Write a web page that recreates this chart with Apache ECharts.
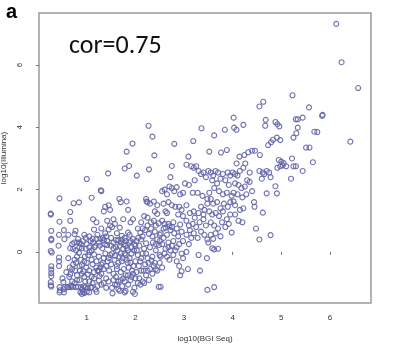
<!DOCTYPE html>
<html>
<head>
<meta charset="utf-8">
<script src="https://cdn.jsdelivr.net/npm/echarts@6/dist/echarts.min.js"></script>
<style>
html,body{margin:0;padding:0;background:#fff;}
#c{width:400px;height:349px;}
</style>
</head>
<body>
<div id="c"></div>
<script>
var panelLabel = 'a';
var corText = 'cor=0.75';
var xTitle = 'log10(BGI Seq)';
var yTitle = 'log10(Illumina)';
var xTicks = [1, 2, 3, 4, 5, 6];
var yTicks = [0, 2, 4, 6];
var xRange = [0.018, 6.845];
var yRange = [-1.64, 7.67];

var pts1 = [[0.26,1.23],[0.26,1.20],[0.27,0.68],[0.27,0.42],[0.27,0.38],[0.26,0.03],[0.28,-0.02],[0.27,-0.46],[0.27,-0.57],[0.27,-0.68],[0.27,-0.78],[0.26,-0.97],[0.26,-1.07],[0.27,-1.11],[0.44,1.72],[0.44,0.97],[0.43,0.55],[0.42,0.2],[0.43,-0.18],[0.43,-0.3],[0.43,-0.45],[0.44,-1.13],[0.45,-1.23],[0.44,-1.30],[0.53,-1.30],[0.53,-1.2],[0.52,-0.97],[0.53,0.70],[0.54,0.41],[0.50,-0.85]];
var pts2 = [[0.66,1.28],[0.66,1.0],[0.73,1.56],[0.84,1.59],[0.66,0.12],[0.70,0.25],[0.75,0.57],[0.77,0.68],[0.82,0.42],[0.85,0.30],[0.88,0.25],[0.90,0.12],[0.95,0.55],[0.98,0.45],[0.62,-0.2],[0.65,-0.5],[0.66,-0.72],[0.64,-0.8],[0.67,-1.08],[0.70,-0.95],[0.72,-1.12],[0.75,-1.0],[0.76,-0.6],[0.78,-0.35],[0.80,-0.15],[0.80,-0.75],[0.82,-1.12],[0.85,-0.9],[0.86,-0.6],[0.88,-0.25],[0.90,-0.42],[0.91,-1.2],[0.92,-1.28],[0.94,-1.1],[0.95,-0.8],[0.96,-0.15],[0.98,0.1],[0.99,-0.5],[0.72,-0.4],[0.78,0.05],[0.84,-0.03],[0.87,-1.3],[0.60,-1.13],[0.58,-0.65],[0.74,0.3],[0.93,-0.62],[0.97,-0.95]];
var pts3 = [[1.0,2.34],[1.10,1.74],[1.29,1.98],[1.30,1.95],[1.44,2.52],[1.13,1.05],[1.2,0.95],[1.38,1.45],[1.45,1.5],[1.35,1.3],[1.48,1.35],[1.42,1.0],[1.30,0.75],[1.15,0.72],[1.05,0.5],[1.08,0.35],[1.12,0.42],[1.18,0.2],[1.22,0.55],[1.25,0.3],[1.28,0.42],[1.32,0.12],[1.35,0.38],[1.38,0.25],[1.40,0.5],[1.45,0.72],[1.48,0.85],[1.03,-0.1],[1.06,0.0],[1.1,-0.25],[1.12,-0.4],[1.15,-0.08],[1.2,-0.3],[1.22,-0.6],[1.25,-0.15],[1.28,-0.5],[1.3,-0.7],[1.33,-0.35],[1.35,-0.55],[1.38,-0.05],[1.4,-0.85],[1.43,-0.3],[1.46,-0.6],[1.48,-0.1],[1.02,-0.72],[1.05,-0.95],[1.08,-1.15],[1.12,-1.0],[1.15,-0.85],[1.18,-1.2],[1.22,-1.1],[1.25,-0.92],[1.3,-1.05],[1.35,-1.0],[1.4,-1.15],[1.45,-0.95],[1.0,-1.28],[1.02,-1.15],[1.16,0.15],[1.42,0.22],[1.26,-0.78]];
var pts4 = [[1.82,3.22],[1.94,3.48],[1.78,2.68],[1.87,2.76],[1.67,1.7],[1.70,1.6],[1.82,1.62],[1.85,1.35],[1.90,0.95],[1.95,1.05],[1.75,1.05],[1.55,1.05],[1.58,0.9],[1.52,0.8],[1.62,0.6],[1.68,0.78],[1.72,0.52],[1.78,0.45],[1.85,0.62],[1.9,0.35],[1.95,0.42],[1.98,0.25],[1.55,0.3],[1.6,0.15],[1.65,0.38],[1.7,0.3],[1.75,0.1],[1.8,0.2],[1.85,0.05],[1.52,-0.05],[1.57,-0.25],[1.62,-0.45],[1.67,-0.15],[1.72,-0.3],[1.76,-0.55],[1.8,-0.1],[1.84,-0.35],[1.88,-0.2],[1.92,-0.05],[1.96,-0.45],[1.55,-0.7],[1.6,-0.8],[1.65,-0.95],[1.7,-0.65],[1.75,-0.85],[1.8,-0.75],[1.85,-1.05],[1.9,-0.9],[1.95,-0.7],[1.98,-1.15],[1.52,-1.15],[1.58,-1.05],[1.68,-1.25],[1.53,-1.33],[1.65,-1.2],[1.78,-1.3],[1.8,-1.25],[1.95,-1.28],[1.99,-1.35],[1.73,-1.1],[1.62,-0.55],[1.88,0.55],[1.78,-0.05]];
var pts5 = [[2.27,4.05],[2.35,3.70],[2.39,3.10],[2.03,2.45],[2.28,2.65],[2.22,1.7],[2.25,1.6],[2.3,1.55],[2.4,1.3],[2.45,1.22],[2.23,1.62],[2.38,1.62],[2.18,1.15],[2.25,1.1],[2.32,0.95],[2.42,0.85],[2.48,0.92],[2.05,0.75],[2.1,0.62],[2.15,0.5],[2.2,0.7],[2.28,0.58],[2.35,0.5],[2.4,0.65],[2.45,0.4],[2.5,0.55],[2.02,0.35],[2.08,0.2],[2.12,0.4],[2.18,0.1],[2.22,0.28],[2.3,0.15],[2.36,0.3],[2.42,0.05],[2.48,0.22],[2.05,-0.1],[2.1,-0.3],[2.15,-0.05],[2.2,-0.4],[2.25,-0.2],[2.3,-0.55],[2.35,-0.15],[2.4,-0.35],[2.45,-0.6],[2.5,-0.1],[2.02,-0.65],[2.08,-0.85],[2.12,-0.6],[2.18,-1.0],[2.22,-0.75],[2.28,-0.9],[2.05,-1.0],[2.48,-1.12],[2.52,-1.12],[2.38,-0.45],[2.15,-0.95],[2.33,-0.28],[2.12,0.95],[2.45,1.5]];
var pts6 = [[2.80,3.47],[2.75,2.76],[2.72,2.4],[2.55,1.95],[2.6,2.0],[2.65,1.85],[2.7,2.1],[2.75,2.05],[2.8,1.95],[2.85,2.08],[2.68,1.6],[2.75,1.5],[2.82,1.45],[2.62,1.3],[2.58,1.55],[2.65,1.25],[2.9,1.45],[2.95,1.35],[2.98,1.9],[2.92,1.85],[2.55,1.0],[2.6,0.9],[2.7,0.82],[2.78,0.95],[2.85,0.75],[2.92,0.88],[2.98,1.15],[2.52,0.6],[2.58,0.45],[2.65,0.55],[2.72,0.7],[2.8,0.6],[2.88,0.5],[2.95,0.65],[2.55,0.25],[2.62,0.1],[2.68,0.3],[2.75,0.2],[2.82,0.05],[2.9,0.25],[2.98,0.35],[2.52,-0.15],[2.6,-0.05],[2.7,-0.25],[2.78,-0.1],[2.85,-0.3],[2.95,-0.05],[2.98,-0.2],[2.9,-0.45],[2.92,-0.75],[2.95,-0.62],[2.68,0.15],[2.88,1.2],[2.62,0.78]];
var pts7 = [[3.09,3.06],[3.19,3.56],[3.36,3.97],[3.05,2.8],[3.15,2.75],[3.2,2.7],[3.25,2.75],[3.3,2.6],[3.35,2.5],[3.4,2.55],[3.45,2.4],[3.22,2.3],[3.1,2.15],[3.02,2.2],[3.18,1.9],[3.28,1.9],[3.38,1.8],[3.48,1.7],[3.05,1.5],[3.12,1.25],[3.2,1.3],[3.3,1.25],[3.35,1.45],[3.42,1.35],[3.48,1.55],[3.05,1.0],[3.1,0.85],[3.18,0.9],[3.25,0.8],[3.32,0.95],[3.4,1.05],[3.45,0.85],[3.05,0.55],[3.12,0.7],[3.2,0.6],[3.28,0.45],[3.35,0.65],[3.42,0.55],[3.48,0.4],[3.1,0.25],[3.15,0.45],[3.08,-0.55],[3.05,0.0],[3.3,-0.1],[3.33,-0.6],[3.47,-0.2],[3.48,-1.22],[3.4,1.2],[3.22,1.1]];
var pts8 = [[3.52,3.22],[3.62,3.74],[3.76,3.19],[3.84,3.92],[3.88,3.27],[3.5,2.6],[3.55,2.55],[3.6,2.45],[3.65,2.6],[3.7,2.55],[3.8,2.5],[3.9,2.55],[3.95,2.45],[3.58,2.3],[3.68,2.2],[3.75,2.35],[3.85,2.3],[3.92,2.15],[3.62,2.05],[3.72,1.95],[3.8,1.85],[3.88,1.9],[3.98,1.8],[3.55,1.7],[3.6,1.55],[3.68,1.6],[3.75,1.4],[3.82,1.55],[3.9,1.45],[3.95,1.6],[3.52,1.3],[3.58,1.2],[3.65,1.25],[3.72,1.15],[3.8,1.3],[3.88,1.05],[3.95,1.2],[3.55,0.95],[3.62,0.85],[3.7,0.75],[3.78,0.95],[3.85,0.8],[3.92,0.9],[3.55,0.55],[3.6,0.42],[3.65,0.6],[3.75,0.5],[3.5,0.3],[3.58,0.12],[3.62,0.08],[3.7,0.1],[3.62,-1.13],[3.98,0.62],[3.52,1.9]];
var pts9 = [[4.02,4.31],[4.03,3.99],[4.08,3.92],[4.22,4.08],[4.14,3.06],[4.24,3.11],[4.32,3.2],[4.4,3.25],[4.46,3.25],[4.08,2.84],[4.26,2.84],[4.0,2.55],[4.05,2.5],[4.1,2.45],[4.15,2.6],[4.22,2.7],[4.3,2.3],[4.35,2.25],[4.05,2.2],[4.12,2.15],[4.18,2.05],[4.25,2.1],[4.02,1.9],[4.1,1.85],[4.2,1.75],[4.28,1.85],[4.4,1.95],[4.05,1.5],[4.15,1.35],[4.22,1.4],[4.05,1.2],[4.12,1.0],[4.2,0.95],[4.44,1.6],[4.45,1.45],[4.48,0.75],[4.02,1.62],[4.35,2.55]];
var pts10 = [[4.55,4.67],[4.63,4.82],[4.68,4.24],[4.67,4.05],[4.88,4.17],[4.92,4.1],[4.96,4.03],[4.91,3.67],[4.98,3.59],[4.83,3.6],[4.79,3.52],[4.73,3.43],[4.56,3.11],[4.55,2.6],[4.62,2.55],[4.7,2.6],[4.75,2.55],[4.78,2.4],[4.6,2.35],[4.95,2.95],[4.98,2.75],[4.92,2.7],[4.88,2.11],[4.7,1.88],[4.91,1.88],[4.62,1.26],[4.78,0.54],[4.55,0.40],[4.65,2.5]];
var pts11 = [[5.0,2.9],[5.05,2.85],[5.1,2.75],[5.03,2.78],[5.22,3.0],[5.25,2.75],[5.2,2.35],[5.3,2.75],[5.44,2.6],[5.65,2.88],[5.23,5.03],[5.57,4.64],[5.44,4.31],[5.30,4.26],[5.34,4.26],[5.85,4.40],[5.84,4.37],[5.34,3.99],[5.31,3.81],[5.25,3.67],[5.68,3.86],[5.74,3.85],[5.51,3.35],[5.58,3.35],[6.13,7.32],[6.24,6.09],[6.58,5.26],[6.42,3.54]];
var pts12 = [[0.55,-1.13],[0.62,-1.13],[0.68,-1.13],[0.78,-1.13],[0.88,-1.13],[0.97,-1.13],[1.1,-1.13],[1.2,-1.28],[0.9,-1.35],[0.95,-1.32],[1.05,-1.3],[0.62,0.55],[0.72,0.1],[0.8,0.3],[0.85,0.15],[0.92,0.35],[1.0,0.25],[1.05,0.15],[1.1,0.05],[1.13,0.3],[1.2,0.42],[1.27,0.2],[1.33,0.45],[1.38,0.6],[1.42,0.35],[1.5,0.2],[1.5,0.45],[1.55,0.12],[1.6,0.38],[1.63,0.05],[1.68,0.2],[1.72,0.4],[1.76,0.25],[1.8,0.35],[1.83,0.12],[1.87,0.3],[1.92,0.15],[1.97,0.05],[2.0,0.2],[2.03,0.05],[2.06,0.45],[1.58,-0.12],[1.65,-0.35],[1.7,-0.05],[1.74,-0.2],[1.82,-0.25],[1.86,-0.5],[1.9,-0.35],[1.93,-0.6],[2.0,-0.3],[2.07,-0.45],[2.12,-0.2],[2.17,-0.6],[2.22,-0.05],[2.27,-0.35],[1.5,-0.4],[1.45,-0.2],[1.4,-0.45],[1.35,-0.2],[1.3,-0.4],[1.25,-0.6],[1.2,-0.5],[1.15,-0.65],[1.1,-0.8],[1.05,-0.6],[1.0,-0.35],[0.95,-0.3],[0.9,-0.7],[0.85,-0.45],[0.8,-0.9],[0.75,-0.25],[0.7,-0.55],[1.55,-0.9],[1.62,-1.05],[1.7,-0.9],[1.78,-0.95],[1.85,-0.75],[1.92,-0.8],[2.0,-0.85],[2.1,-1.05],[2.25,-0.6],[2.35,-0.7],[2.42,-0.55],[2.5,-0.35],[2.55,-0.5],[2.65,-0.15],[2.72,0.05],[2.78,0.35],[2.85,0.15],[2.58,0.75],[2.68,0.9],[2.75,0.8],[2.42,0.25],[2.5,0.35],[2.32,0.75],[2.25,0.85],[2.15,0.75],[2.38,1.0]];

var points = [].concat(pts1, pts2, pts3, pts4, pts5, pts6, pts7, pts8, pts9, pts10, pts11, pts12);

var chart = echarts.init(document.getElementById('c'), null, {renderer: 'canvas'});
var font = 'Liberation Sans, Arial, sans-serif';
chart.setOption({
  animation: false,
  backgroundColor: '#ffffff',
  grid: {left: 39, top: 13, width: 332, height: 290, show: true, borderColor: '#9a9a9a', borderWidth: 1.5, backgroundColor: 'transparent', containLabel: false, outerBoundsMode: 'none'},
  title: [
    {text: panelLabel, left: 1, top: -3, textStyle: {fontFamily: font, fontWeight: 'bold', fontSize: 20, color: '#000'}},
    {text: corText, left: 64, top: 28, textStyle: {fontFamily: 'Carlito, Open Sans, sans-serif', fontWeight: 'normal', fontSize: 26, color: '#111'}}
  ],
  xAxis: {
    type: 'value', min: xRange[0], max: xRange[1],
    name: xTitle, nameLocation: 'middle', nameGap: 32,
    nameTextStyle: {fontFamily: font, fontSize: 8, color: '#333'},
    axisLine: {show: false},
    splitLine: {show: false},
    axisTick: {show: true, length: 3, lineStyle: {color: '#777'}, customValues: xTicks},
    axisLabel: {fontFamily: font, fontSize: 8, color: '#333', margin: 11, customValues: xTicks, formatter: function(v){return String(Math.round(v));}}
  },
  yAxis: {
    type: 'value', min: yRange[0], max: yRange[1],
    name: yTitle, nameLocation: 'middle', nameGap: 28, nameRotate: 90,
    nameTextStyle: {fontFamily: font, fontSize: 8, color: '#333'},
    axisLine: {show: false},
    splitLine: {show: false},
    axisTick: {show: true, length: 3, lineStyle: {color: '#777'}, customValues: yTicks},
    axisLabel: {fontFamily: font, fontSize: 8, color: '#333', rotate: 90, margin: 15, customValues: yTicks, formatter: function(v){return String(Math.round(v));}}
  },
  series: [{
    type: 'scatter',
    data: points,
    symbol: 'circle',
    symbolSize: 5,
    itemStyle: {color: 'rgba(255,255,255,0)', borderColor: '#5f63a6', borderWidth: 1.1, opacity: 0.9}
  }]
});
</script>
</body>
</html>
